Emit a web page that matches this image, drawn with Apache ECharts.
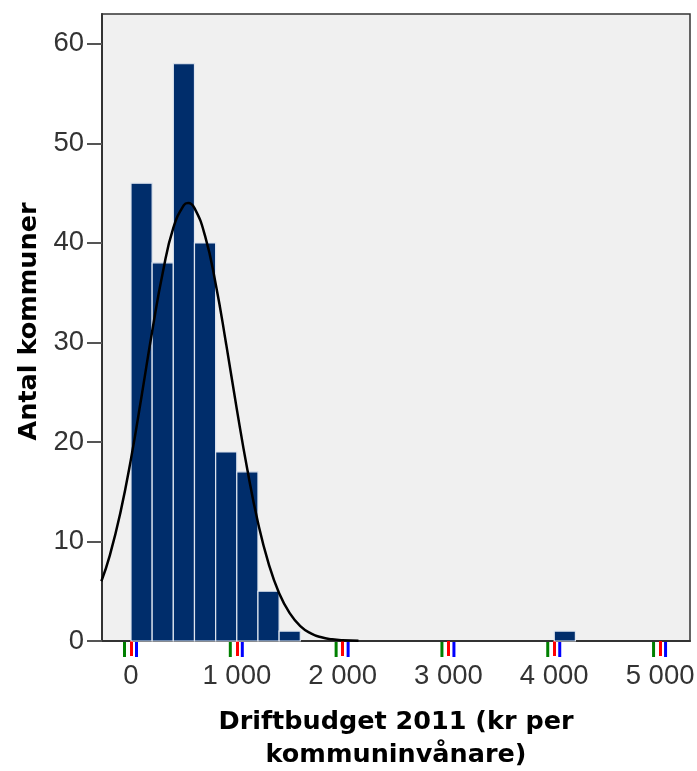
<!DOCTYPE html>
<html>
<head>
<meta charset="utf-8">
<script src="https://cdn.jsdelivr.net/npm/echarts@6/dist/echarts.min.js"></script>
<style>html,body{margin:0;padding:0;background:#fff;}#c{width:697px;height:771px;}</style>
</head>
<body>
<div id="c"></div>
<script>
// Histogram bins (kr per kommuninvånare) and counts
const binStarts = [0, 200, 400, 600, 800, 1000, 1200, 1400, 4000];
const binWidth = 200;
const counts = [46, 38, 58, 40, 19, 17, 5, 1, 1];
// Fitted normal curve
const curveX = [-280, -200, -100, 0, 100, 200, 300, 400, 500, 540, 600, 700, 800, 900, 1000, 1100, 1200, 1300, 1400, 1500, 1600, 1700, 1800, 1900, 2000, 2150];
const curveY = [6.0, 8.6, 12.9, 18.3, 24.6, 31.1, 37.0, 41.5, 43.8, 44.0, 43.5, 40.7, 35.9, 29.8, 23.3, 17.2, 11.9, 7.8, 4.8, 2.8, 1.5, 0.77, 0.37, 0.17, 0.07, 0.02];
const xTicks = [0, 1000, 2000, 3000, 4000, 5000];
const xTickLabels = ['0', '1 000', '2 000', '3 000', '4 000', '5 000'];
const yTicks = [0, 10, 20, 30, 40, 50, 60];

const chart = echarts.init(document.getElementById('c'), null, {renderer: 'canvas'});
const tickFont = '"Liberation Sans", Arial, sans-serif';
const titleFont = '"DejaVu Sans", sans-serif';
const barData = binStarts.map((s, i) => [s, s + binWidth, counts[i]]);
const lineData = curveX.map((x, i) => [x, curveY[i]]);
const tickData = xTicks.map(v => [v, 0]);

chart.setOption({
  animation: false,
  backgroundColor: '#ffffff',
  grid: {
    left: 102, top: 14, right: 7, bottom: 130,
    outerBoundsMode: 'none',
    show: true, backgroundColor: '#f0f0f0', borderColor: '#333', borderWidth: 1.5
  },
  xAxis: {
    type: 'value', min: -274, max: 5283,
    name: 'Driftbudget 2011 (kr per\nkommuninvånare)',
    nameLocation: 'middle', nameGap: 65,
    nameTextStyle: {fontFamily: titleFont, fontWeight: 'bold', fontSize: 25.5, color: '#000', lineHeight: 33, verticalAlign: 'top'},
    axisLine: {show: true, onZero: false, lineStyle: {color: '#333', width: 2}},
    axisTick: {show: true, length: 15, customValues: xTicks, lineStyle: {color: 'red', width: 3}},
    axisLabel: {customValues: xTicks, margin: 21, fontFamily: tickFont, fontSize: 27.5, color: '#333',
      formatter: v => xTickLabels[xTicks.indexOf(v)]},
    splitLine: {show: false}
  },
  yAxis: {
    type: 'value', min: 0, max: 63, interval: 10,
    name: 'Antal kommuner', nameLocation: 'middle', nameGap: 49,
    nameTextStyle: {fontFamily: titleFont, fontWeight: 'bold', fontSize: 25.5, color: '#000', padding: [0, 0, 0, 12]},
    axisLine: {show: true, onZero: false, lineStyle: {color: '#333', width: 2}},
    axisTick: {show: true, length: 15, customValues: yTicks, lineStyle: {color: '#555', width: 2}},
    axisLabel: {customValues: yTicks, margin: 18, fontFamily: tickFont, fontSize: 27.5, color: '#333'},
    splitLine: {show: false}
  },
  series: [
    {
      type: 'custom',
      data: barData,
      encode: {x: [0, 1], y: 2},
      renderItem: function (params, api) {
        const p0 = api.coord([api.value(0), 0]);
        const p1 = api.coord([api.value(1), api.value(2)]);
        return {
          type: 'rect',
          shape: {x: p0[0], y: p1[1], width: p1[0] - p0[0], height: p0[1] - p1[1]},
          style: {fill: '#002d6b', stroke: '#dfe6f0', lineWidth: 1.2}
        };
      },
      z: 2
    },
    {
      type: 'custom',
      data: tickData,
      encode: {x: 0, y: 1},
      clip: false,
      z: 100,
      renderItem: function (params, api) {
        const p = api.coord([api.value(0), 0]);
        return {
          type: 'rect',
          shape: {x: p[0] + 4, y: p[1] + 1, width: 3, height: 15},
          style: {fill: 'blue'}
        };
      }
    },
    {
      type: 'line',
      data: lineData,
      smooth: true,
      showSymbol: false,
      lineStyle: {color: '#000', width: 2.5},
      z: 3
    }
  ]
});

try {
  const tickGraphics = xTicks.map(v => {
    const p = chart.convertToPixel({gridIndex: 0}, [v, 0]);
    return {
      type: 'rect', z: 100, silent: true,
      shape: {x: p[0] - 8, y: p[1] + 1, width: 3, height: 15},
      style: {fill: 'green'}
    };
  });
  chart.setOption({graphic: tickGraphics});
} catch (e) {
  document.title = String(e);
}
</script>
</body>
</html>
